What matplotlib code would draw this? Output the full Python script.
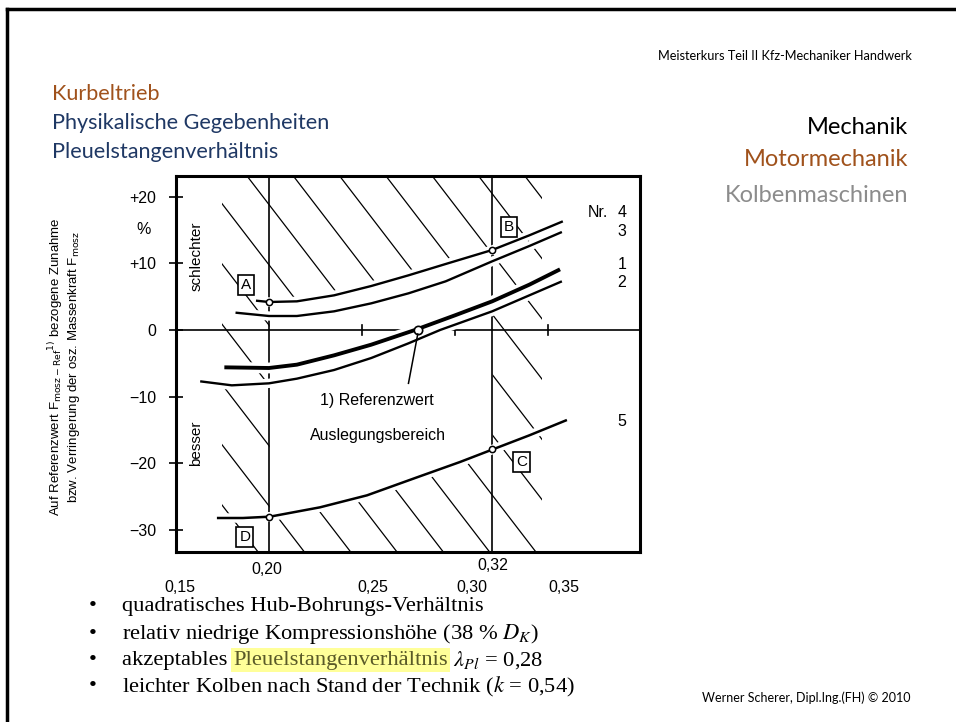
"""Slide: Pleuelstangenverhältnis vs. Massenkraft (Kurbeltrieb)."""
import numpy as np

import matplotlib
matplotlib.use("Agg")
import matplotlib.pyplot as plt  # noqa: E402
from matplotlib import patheffects as pe  # noqa: E402
from matplotlib.lines import Line2D  # noqa: E402
from matplotlib.patches import Rectangle  # noqa: E402

W, H = 956, 722
BROWN = "#A0521C"
NAVY = "#1F3864"
GREY = "#8C8C8C"
YELLOW = "#FFFF99"

# --- curves: x = lambda_Pl, y = % relative to reference
x_nr4 = [0.193, 0.200, 0.215, 0.235, 0.255, 0.275, 0.295, 0.320, 0.340, 0.358]
y_nr4 = [4.4, 4.2, 4.3, 5.2, 6.6, 8.2, 9.9, 12.0, 14.2, 16.3]
x_nr3 = [0.182, 0.200, 0.215, 0.235, 0.255, 0.275, 0.295, 0.320, 0.340, 0.3575]
y_nr3 = [2.6, 2.1, 2.1, 2.8, 4.0, 5.5, 7.3, 10.3, 12.6, 14.7]
x_nr1 = [0.176, 0.200, 0.215, 0.235, 0.255, 0.2785, 0.300, 0.320, 0.340, 0.3565]
y_nr1 = [-5.6, -5.7, -5.2, -3.8, -2.2, 0.0, 2.2, 4.3, 6.8, 9.1]
x_nr2 = [0.163, 0.180, 0.200, 0.215, 0.235, 0.255, 0.275, 0.292, 0.320, 0.340, 0.3575]
y_nr2 = [-7.7, -8.3, -8.0, -7.3, -6.0, -4.2, -2.0, 0.0, 2.8, 5.2, 7.3]
x_nr5 = [0.172, 0.186, 0.2005, 0.2274, 0.2527, 0.2796, 0.3027, 0.3204, 0.340, 0.3602]
y_nr5 = [-28.2, -28.2, -28.0, -26.6, -24.8, -22.1, -19.8, -17.9, -15.8, -13.5]

lam_lo, lam_hi = 0.20, 0.32          # Auslegungsbereich limits
lam_ref = 0.28                       # reference point (Nr. 1 crosses 0)
corner_pts = {"A": (0.20, 4.2), "B": (0.32, 12.0), "C": (0.32, -17.9), "D": (0.20, -28.1)}
corner_boxes = {"A": (0.1876, 6.8), "B": (0.329, 15.5), "C": (0.336, -19.8), "D": (0.187, -31.1)}

y_ticks = [20, 10, 0, -10, -20, -30]
y_ticklabels = ["+20", "+10", "0", "\u221210", "\u221220", "\u221230"]
zero_ticks = [0.25, 0.30, 0.35]
x_labels = [(0.15, "0,15", 4, -36), (0.20, "0,20", -2, -18), (0.25, "0,25", 11, -36),
            (0.30, "0,30", 17, -36), (0.32, "0,32", 1, -13), (0.35, "0,35", 16, -36)]
curve_labels = [("3", 14.7), ("1", 9.8), ("2", 7.1), ("5", -13.8)]

bullets = [
    "quadratisches Hub-Bohrungs-Verhältnis",
    r"relativ niedrige Kompressionshöhe (38 % $D_K$)",
    None,  # highlighted line, built below
    r"leichter Kolben nach Stand der Technik ($k$ = 0,54)",
]


def fx(px):
    return px / W


def fy(py):
    return 1 - py / H


fig = plt.figure(figsize=(W / 100, H / 100), dpi=100)

# slide frame (top + left edge visible)
fig.add_artist(Line2D([fx(7), 1], [fy(9), fy(9)], color="black", lw=2.5))
fig.add_artist(Line2D([fx(7), fx(7)], [fy(9), 0], color="black", lw=2.5))

# header texts (Calibri-like)
hf = "Lato"
fig.text(fx(912), fy(56), "Meisterkurs Teil II Kfz-Mechaniker Handwerk", ha="right", va="center",
         fontsize=9.2, family=hf)
fig.text(fx(52), fy(94), "Kurbeltrieb", color=BROWN, fontsize=15.6, family=hf, va="center")
fig.text(fx(52), fy(123), "Physikalische Gegebenheiten", color=NAVY, fontsize=15.6, family=hf, va="center")
fig.text(fx(52), fy(152), "Pleuelstangenverhältnis", color=NAVY, fontsize=15.6, family=hf, va="center")
fig.text(fx(908), fy(127), "Mechanik", ha="right", va="center", fontsize=17, family=hf)
fig.text(fx(908), fy(160), "Motormechanik", ha="right", va="center", fontsize=17, family=hf, color=BROWN)
fig.text(fx(908), fy(195), "Kolbenmaschinen", ha="right", va="center", fontsize=17, family=hf, color=GREY)
fig.text(fx(910), fy(698), "Werner Scherer, Dipl.Ing.(FH) \u00a9 2010", ha="right", va="center",
         fontsize=9, family=hf)

# --- chart
cf = "Liberation Sans"
fs = 11.5
ax = fig.add_axes([fx(176), fy(552), (640 - 176) / W, (552 - 176) / H])
xlim = (0.15, 0.3995)
ylim = (-33.3, 23.1)
ax.set_xlim(*xlim)
ax.set_ylim(*ylim)
for s in ax.spines.values():
    s.set_linewidth(2.2)
ax.set_xticks([])
ax.set_yticks(y_ticks)
ax.set_yticklabels(y_ticklabels, family=cf, fontsize=fs)
ax.tick_params(axis="y", direction="inout", length=10, width=1.2, pad=9)
ax.text(-0.07, 15, "%", transform=ax.get_yaxis_transform(), ha="center", va="center",
        family=cf, fontsize=fs)

# hatching: sparse diagonal lines clipped to the hatched band
slope = 1.3 * (1860 / 6.66)          # data units per unit lambda (≈1.3 px/px)
span = (ylim[1] - ylim[0]) / slope
clip = Rectangle((0.175, ylim[0]), 0.347 - 0.175, ylim[1] - ylim[0], transform=ax.transData)
for x0 in np.arange(0.1882 - 6 * 0.0249, 0.36, 0.0249):
    ln, = ax.plot([x0, x0 + span], [ylim[1], ylim[0]], color="black", lw=0.9, zorder=1)
    ln.set_clip_path(clip)

# white design window between Nr.5 and Nr.4
xx = np.linspace(lam_lo, lam_hi, 200)
ax.fill_between(xx, np.interp(xx, x_nr5, y_nr5), np.interp(xx, x_nr4, y_nr4),
                color="white", lw=0, zorder=2)

ax.axvline(lam_lo, color="black", lw=1.2, zorder=3)
ax.axvline(lam_hi, color="black", lw=1.2, zorder=3)
ax.axhline(0, color="black", lw=1.2, zorder=3)
for xt in zero_ticks:
    ax.plot([xt, xt], [-0.8, 0.8], color="black", lw=1.2, zorder=3)

halo = lambda w: [pe.Stroke(linewidth=w + 5, foreground="white"), pe.Normal()]  # noqa: E731
for xs, ys, w in [(x_nr4, y_nr4, 1.7), (x_nr3, y_nr3, 1.7), (x_nr1, y_nr1, 2.8),
                  (x_nr2, y_nr2, 1.7), (x_nr5, y_nr5, 1.8)]:
    ax.plot(xs, ys, color="black", lw=w, solid_capstyle="butt", zorder=4, path_effects=halo(w))

for k, (px_, py_) in corner_pts.items():
    ax.plot(px_, py_, "o", ms=4.5, mfc="white", mec="black", mew=1.1, zorder=5)
    bx, by = corner_boxes[k]
    ax.text(bx, by, k, ha="center", va="center", family=cf, fontsize=fs - 0.5, zorder=6,
            bbox=dict(boxstyle="square,pad=0.2", fc="white", ec="black", lw=1.2))
ax.plot(lam_ref, 0, "o", ms=6, mfc="white", mec="black", mew=1.2, zorder=5)
ax.plot([lam_ref, 0.275], [-0.6, -8.0], color="black", lw=1.1, zorder=5)

ax.text(0.258, -10.5, "1) Referenzwert", ha="center", va="center", family=cf, fontsize=fs, zorder=6)
ax.text(0.2586, -15.8, "Auslegungsbereich", ha="center", va="center", family=cf, fontsize=fs, zorder=6)
ax.text(0.161, 11, "schlechter", rotation=90, ha="center", va="center", family=cf, fontsize=fs - 0.5,
        zorder=6, bbox=dict(fc="white", ec="none", pad=1))
ax.text(0.161, -17, "besser", rotation=90, ha="center", va="center", family=cf, fontsize=fs - 0.5,
        zorder=6, bbox=dict(fc="white", ec="none", pad=1))

ax.text(0.3769, 17.6, "Nr.", ha="center", va="center", family=cf, fontsize=fs, zorder=6)
ax.text(0.3898, 17.6, "4", ha="center", va="center", family=cf, fontsize=fs, zorder=6)
for lab, yv in curve_labels:
    ax.text(0.3898, yv, lab, ha="center", va="center", family=cf, fontsize=fs, zorder=6)

for xv, lab, dx, dy in x_labels:
    ax.annotate(lab, xy=(xv, 0), xycoords=("data", "axes fraction"), xytext=(dx, dy),
                textcoords="offset pixels", ha="center", va="center", family=cf, fontsize=fs)

fig.text(fx(56), fy(367), r"Auf Referenzwert F$_{\mathrm{mosz-Ref}}$$^{1)}$ bezogene Zunahme",
         rotation=90, ha="center", va="center", family=cf, fontsize=9.5, math_fontfamily="dejavusans")
fig.text(fx(74), fy(367), r"bzw. Verringerung der osz. Massenkraft F$_{\mathrm{mosz}}$",
         rotation=90, ha="center", va="center", family=cf, fontsize=9.5, math_fontfamily="dejavusans")

# --- bullet list
bf = "Liberation Serif"
bs = 16.2
rows = [607, 634, 660, 687]
for row, txt in zip(rows, bullets):
    fig.text(fx(93), fy(row), "\u2022", ha="center", va="center", family=bf, fontsize=bs)
    if txt is not None:
        fig.text(fx(122), fy(row), txt, va="center", family=bf, fontsize=bs, math_fontfamily="stix")

r = fig.canvas.get_renderer()
t1 = fig.text(fx(122), fy(rows[2]), "akzeptables ", va="center", family=bf, fontsize=bs)
bb = t1.get_window_extent(r)
t2 = fig.text(bb.x1 / W, fy(rows[2]), "Pleuelstangenverhältnis", va="center", family=bf, fontsize=bs,
              color="#5A5A28", bbox=dict(fc=YELLOW, ec="none", pad=1.5))
bb = t2.get_window_extent(r)
fig.text(bb.x1 / W, fy(rows[2]), r" $\lambda_{Pl}$ = 0,28", va="center", family=bf, fontsize=bs,
         math_fontfamily="stix")

fig.savefig("out.png", dpi=100)
